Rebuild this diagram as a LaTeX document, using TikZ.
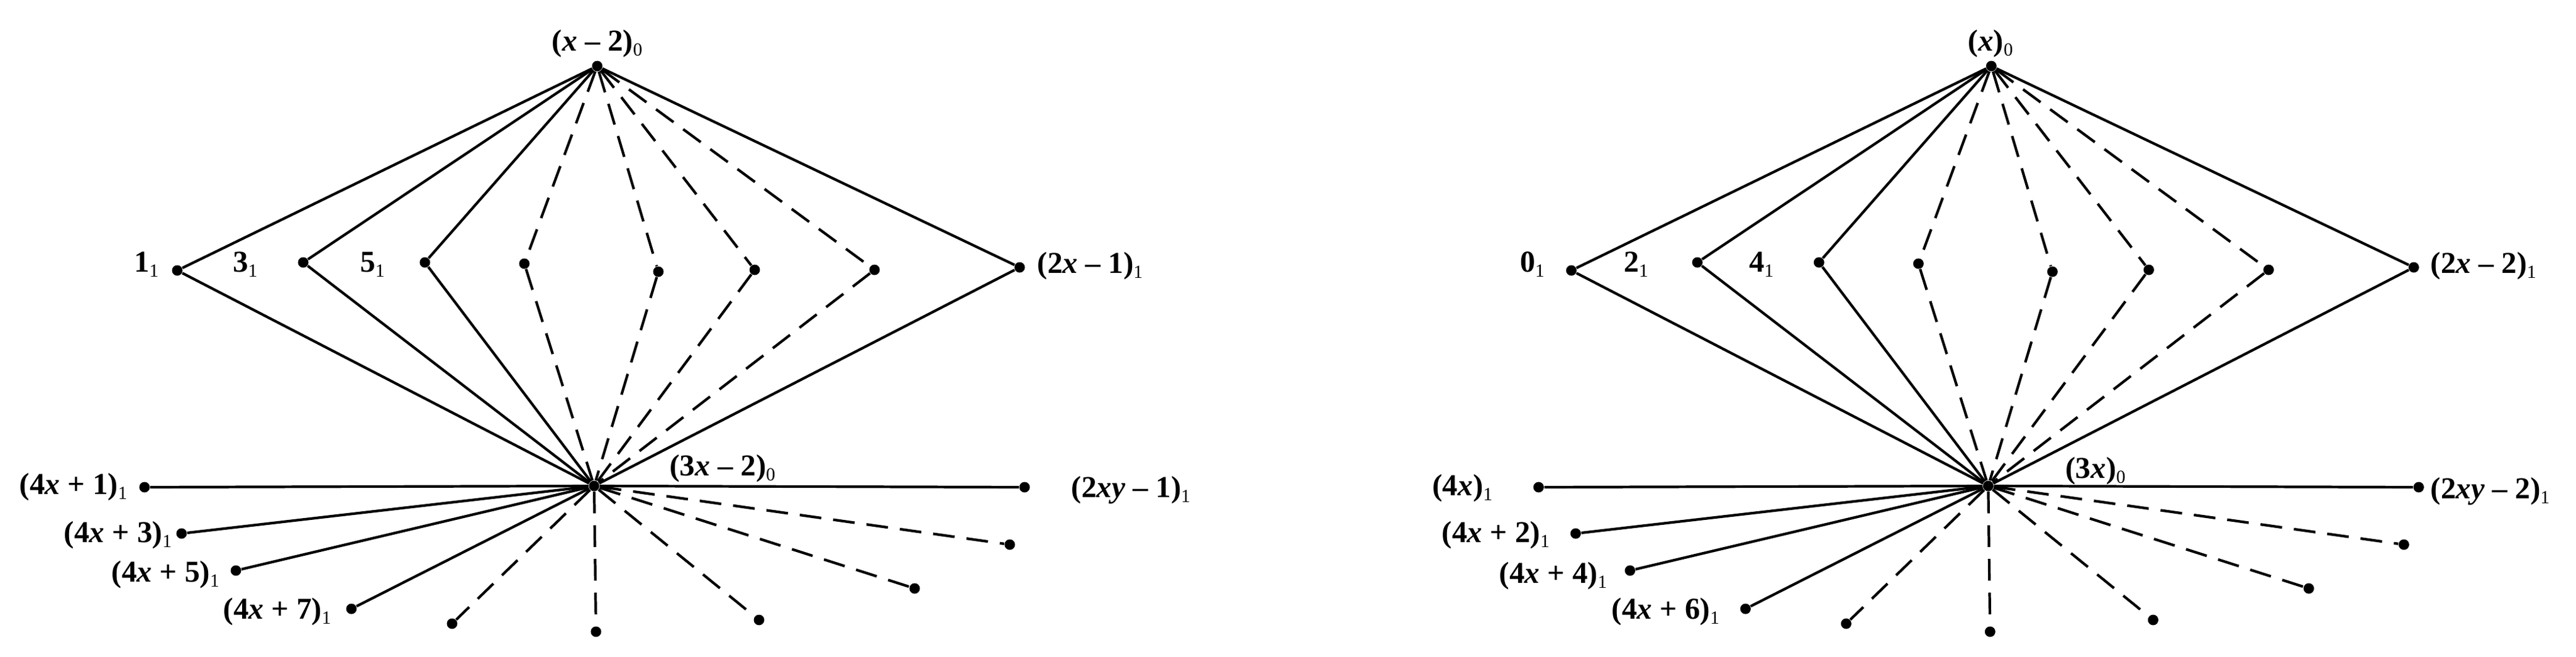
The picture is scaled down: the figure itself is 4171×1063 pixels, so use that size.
\documentclass[tikz,border=0pt]{standalone}
\usepackage{fontspec}
\setmainfont{Liberation Serif}
\newcommand{\vx}{\textit{x}}
\newcommand{\vy}{\textit{y}}
\newcommand{\sbx}[1]{\raisebox{-2.5pt}{\fontsize{8.5}{9}\selectfont\mdseries #1}}
\tikzset{
  vtx/.style={circle,fill=black,inner sep=0pt,minimum size=0.17cm},
  edg/.style={line width=1.2pt},
  dsh/.style={line width=1.2pt,dash pattern=on 10pt off 5.5pt},
  lbl/.style={anchor=base,inner sep=0pt,font=\fontsize{14}{16}\selectfont\bfseries},
}
\newcommand{\onegraph}[1]{%
  \node[vtx] (#1T) at (967,107) {};
  \node[vtx] (#1C) at (962,787) {};
  \node[vtx] (#1M1) at (287,438) {};
  \node[vtx] (#1M2) at (491,425) {};
  \node[vtx] (#1M3) at (688,425) {};
  \node[vtx] (#1M4) at (849,427) {};
  \node[vtx] (#1M5) at (1066,440) {};
  \node[vtx] (#1M6) at (1222,437) {};
  \node[vtx] (#1M7) at (1416,437) {};
  \node[vtx] (#1M8) at (1651,433) {};
  \node[vtx] (#1B1) at (234,789) {};
  \node[vtx] (#1B2) at (1659,789) {};
  \node[vtx] (#1B3) at (294,864) {};
  \node[vtx] (#1B4) at (382,924) {};
  \node[vtx] (#1B5) at (569,986) {};
  \node[vtx] (#1B6) at (732,1010) {};
  \node[vtx] (#1B7) at (965,1023) {};
  \node[vtx] (#1B8) at (1229,1004) {};
  \node[vtx] (#1B9) at (1481,953) {};
  \node[vtx] (#1B10) at (1635,882) {};
  \foreach \m in {1,2,3,8} {\draw[edg] (#1T) -- (#1M\m) -- (#1C);}
  \foreach \m in {4,5,6,7} {\draw[dsh] (#1T) -- (#1M\m); \draw[dsh] (#1M\m) -- (#1C);}
  \foreach \b in {1,2,3,4,5} {\draw[edg] (#1C) -- (#1B\b);}
  \foreach \b in {6,7,8,9,10} {\draw[dsh] (#1C) -- (#1B\b);}
}
\begin{document}
\begin{tikzpicture}[x=0.01cm,y=-0.01cm]
  \useasboundingbox (0,0) rectangle (4171,1063);
  \onegraph{L}
  \begin{scope}[xshift=22.56cm]
    \onegraph{R}
  \end{scope}
  % left labels
  \node[lbl] (lt) at (967,82) {(\vx{} – 2)\sbx{0}};
  \node[lbl] (l1) at (237,440) {1\sbx{1}};
  \node[lbl] (l3) at (397,440) {3\sbx{1}};
  \node[lbl] (l5) at (603,440) {5\sbx{1}};
  \node[lbl] (l2x) at (1765,442) {(2\vx{} – 1)\sbx{1}};
  \node[lbl] (lc) at (1170,770) {(3\vx{} – 2)\sbx{0}};
  \node[lbl] (lb1) at (119,800) {(4\vx{} + 1)\sbx{1}};
  \node[lbl] (lb2) at (1831,805) {(2\vx\vy{} – 1)\sbx{1}};
  \node[lbl] (lb3) at (191,878) {(4\vx{} + 3)\sbx{1}};
  \node[lbl] (lb4) at (268,942) {(4\vx{} + 5)\sbx{1}};
  \node[lbl] (lb5) at (449,1002) {(4\vx{} + 7)\sbx{1}};
  % right labels
  \node[lbl] (rt) at (3223,82) {(\vx)\sbx{0}};
  \node[lbl] (r0) at (2481,440) {0\sbx{1}};
  \node[lbl] (r2) at (2649,440) {2\sbx{1}};
  \node[lbl] (r4) at (2852,440) {4\sbx{1}};
  \node[lbl] (r2x) at (4021,442) {(2\vx{} – 2)\sbx{1}};
  \node[lbl] (rc) at (3393,774) {(3\vx)\sbx{0}};
  \node[lbl] (rb1) at (2368,802) {(4\vx)\sbx{1}};
  \node[lbl] (rb2) at (4032,807) {(2\vx\vy{} – 2)\sbx{1}};
  \node[lbl] (rb3) at (2422,878) {(4\vx{} + 2)\sbx{1}};
  \node[lbl] (rb4) at (2515,944) {(4\vx{} + 4)\sbx{1}};
  \node[lbl] (rb5) at (2697,1002) {(4\vx{} + 6)\sbx{1}};
\end{tikzpicture}
\end{document}
